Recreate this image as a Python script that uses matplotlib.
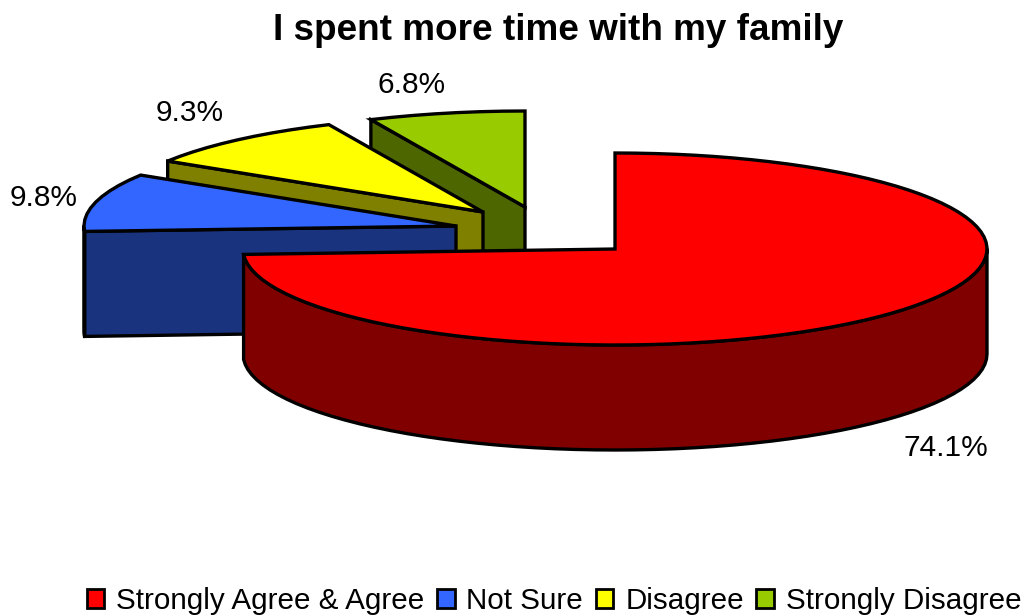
import numpy as np
import matplotlib
matplotlib.use("Agg")
import matplotlib.pyplot as plt
from matplotlib.patches import Polygon, Patch

title = "I spent more time with my family"
categories = ["Strongly Agree & Agree", "Not Sure", "Disagree", "Strongly Disagree"]
values = [74.1, 9.8, 9.3, 6.8]
top_colors = ["#FF0000", "#3366FF", "#FFFF00", "#99CC00"]
side_colors = ["#800000", "#1A337F", "#808000", "#4D6600"]

# layout (pixel space of the 1026x616 figure)
centers = [(615, 249), (456, 226), (483, 212), (525, 207)]
rx, ry, depth = 372, 96, 105
label_pos = [(946, 448), (44, 198), (190, 113), (412, 85)]

plt.rcParams["font.family"] = ["Liberation Sans", "DejaVu Sans"]
fig = plt.figure(figsize=(10.26, 6.16), dpi=100)
ax = fig.add_axes([0, 0, 1, 1])
ax.set_xlim(0, 1026)
ax.set_ylim(616, 0)
ax.axis("off")

EC = "black"
LW = 2.4


def rim(c, a0, a1, n=None):
    n = n or max(3, int((a1 - a0) / 3))
    t = np.radians(np.linspace(a0, a1, n))
    return np.column_stack([c[0] + rx * np.sin(t), c[1] - ry * np.cos(t)])


edges = np.concatenate([[0], np.cumsum(values)]) / sum(values) * 360
# back to front: last slice first
for i in range(len(values) - 1, -1, -1):
    a0, a1 = edges[i], edges[i + 1]
    c = np.array(centers[i], float)
    down = np.array([0, depth])
    # radial start face (visible for slices on the left half)
    if a0 > 180:
        p = rim(c, a0, a0, 1)[0]
        ax.add_patch(Polygon([c, p, p + down, c + down], closed=True,
                             fc=side_colors[i], ec=EC, lw=LW, joinstyle="miter"))
    # outer wall (front half only)
    lo, hi = max(a0, 90), min(a1, 270)
    if hi > lo:
        r = rim(c, lo, hi)
        ax.add_patch(Polygon(np.vstack([r, (r + down)[::-1]]), closed=True,
                             fc=side_colors[i], ec=EC, lw=LW, joinstyle="round"))
    # top face
    r = rim(c, a0, a1)
    ax.add_patch(Polygon(np.vstack([c, r]), closed=True,
                         fc=top_colors[i], ec=EC, lw=LW, joinstyle="miter"))

for v, (x, y) in zip(values, label_pos):
    ax.text(x, y, f"{v:.1f}%", ha="center", va="center", fontsize=21.5, color="black")

ax.text(558, 30, title, ha="center", va="center", fontsize=26.6, fontweight="bold", color="black")

handles = [Patch(fc=c, ec="black", lw=2) for c in top_colors]
fig.legend(handles, categories, loc="center", bbox_to_anchor=(554 / 1026, 1 - 601 / 616),
           ncol=4, frameon=False, fontsize=21.3, handlelength=0.6, handleheight=0.6,
           handletextpad=0.4, columnspacing=0.42, borderpad=0, borderaxespad=0)

fig.savefig("out.png", dpi=100)
